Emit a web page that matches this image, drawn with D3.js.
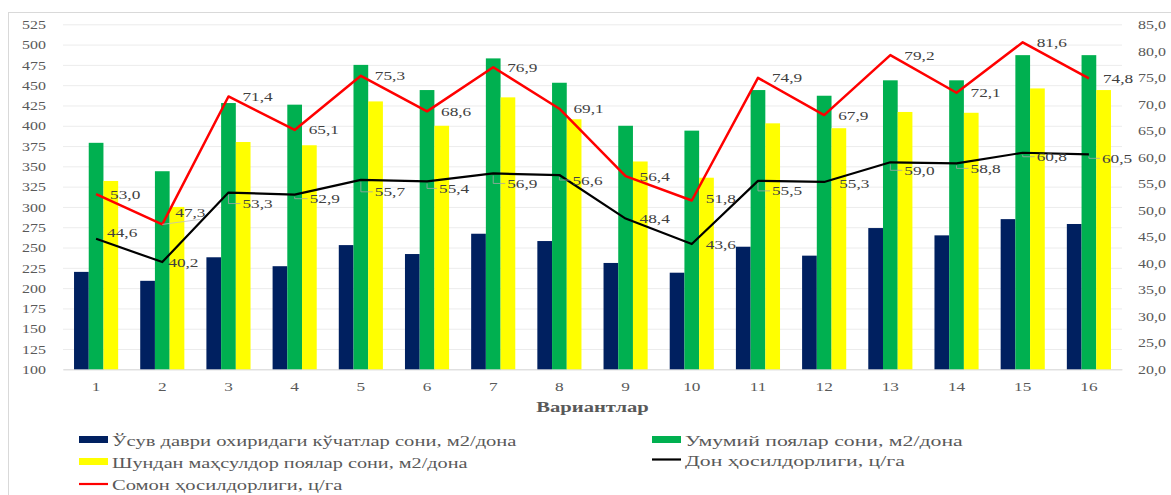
<!DOCTYPE html>
<html>
<head>
<meta charset="utf-8">
<script src="https://cdn.jsdelivr.net/npm/d3@7"></script>
<style>
  html, body { margin: 0; padding: 0; background: #fff; }
  svg { display: block; }
  text { font-family: "Liberation Serif", "Times New Roman", serif; }
</style>
</head>
<body>
<svg id="chart" width="1171" height="495"></svg>
<script>
// Categories (variants) and series
const variants = ["1","2","3","4","5","6","7","8","9","10","11","12","13","14","15","16"];

const seedlings   = [220, 209, 238, 227, 253, 242, 267, 258, 231, 219, 251, 240, 274, 265, 285, 279];
const totalStems  = [379, 344, 428, 426, 475, 444, 483, 453, 400, 394, 444, 437, 456, 456, 487, 487];
const productive  = [332, 300, 380, 376, 430, 400, 435, 408, 356, 336, 403, 397, 417, 416, 446, 444];

const grainYield  = [44.6, 40.2, 53.3, 52.9, 55.7, 55.4, 56.9, 56.6, 48.4, 43.6, 55.5, 55.3, 59.0, 58.8, 60.8, 60.5];
const strawYield  = [53.0, 47.3, 71.4, 65.1, 75.3, 68.6, 76.9, 69.1, 56.4, 51.8, 74.9, 67.9, 79.2, 72.1, 81.6, 74.8];

const leftTicks  = [100,125,150,175,200,225,250,275,300,325,350,375,400,425,450,475,500,525];
const rightTicks = [20,25,30,35,40,45,50,55,60,65,70,75,80,85];

const seriesNames = {
  seedlings:  "Ўсув даври охиридаги кўчатлар сони, м2/дона",
  totalStems: "Умумий поялар сони, м2/дона",
  productive: "Шундан маҳсулдор поялар сони, м2/дона",
  grain:      "Дон ҳосилдорлиги, ц/га",
  straw:      "Сомон ҳосилдорлиги, ц/га"
};
const axisTitle = "Вариантлар";

// label placement nudges [dx, dy] relative to each point
const strawLabelShift = [[14,0],[13,-12],[14,0],[14,0],[14,0],[14,0],[14,0],[14,0],[14,0],[14,-2],[14,0],[14,0],[14,0],[14,0],[14,0],[14,0]];
const grainLabelShift = [[11,-6],[6,0],[14,11],[15,4],[14,12],[12,7],[14,10],[13,5],[14,0],[14,0],[14,10],[15,2],[14,8],[14,5],[14,4],[13,4]];

// ---- layout ----
const SX = 1.33;               // horizontal text stretch
const margin = { left: 63, right: 49, top: 24.3, bottom: 125.7 };
const W = 1171, H = 495;
const plotW = W - margin.left - margin.right;
const plotH = H - margin.top - margin.bottom;

const colors = { seedlings: "#002060", totalStems: "#00b050", productive: "#ffff00", grain: "#000000", straw: "#ff0000" };
const commaFmt = f => v => d3.format(f)(v).replace(".", ",");

const svg = d3.select("#chart");

// outer chart frame
svg.append("rect")
  .attr("x", 8.5).attr("y", 12.5)
  .attr("width", W + 20).attr("height", H + 20)
  .attr("fill", "none").attr("stroke", "#d9d9d9").attr("stroke-width", 1);

const g = svg.append("g").attr("transform", `translate(${margin.left},${margin.top})`);

const x0 = d3.scaleBand().domain(variants).range([0, plotW]).padding(0);
const groupW = x0.bandwidth() * 3 / 4.5;
const x1 = d3.scaleBand().domain(["seedlings","totalStems","productive"]).range([0, groupW]).padding(0);
const yL = d3.scaleLinear().domain([100, 525]).range([plotH, 0]);
const yR = d3.scaleLinear().domain([20, 85]).range([plotH, 0]);

// gridlines
g.append("g")
  .call(d3.axisLeft(yL).tickValues(leftTicks).tickSize(-plotW).tickFormat(""))
  .call(s => s.select(".domain").remove())
  .call(s => s.selectAll("line").attr("stroke", "#ececec").attr("stroke-width", 1));

// left axis labels
g.append("g")
  .call(d3.axisLeft(yL).tickValues(leftTicks).tickSize(0).tickFormat(d3.format("d")))
  .call(s => s.select(".domain").remove())
  .call(s => s.selectAll("text")
    .attr("x", 0).attr("dy", "0.35em")
    .attr("transform", `translate(-17,0) scale(${SX},1)`)
    .attr("fill", "#595959").attr("font-size", 12)
    .style("font-family", "'Liberation Serif', serif"));

// right axis labels
g.append("g")
  .attr("transform", `translate(${plotW},0)`)
  .call(d3.axisRight(yR).tickValues(rightTicks).tickSize(0).tickFormat(commaFmt(".1f")))
  .call(s => s.select(".domain").remove())
  .call(s => s.selectAll("text")
    .attr("x", 0).attr("dy", "0.35em")
    .attr("transform", `translate(16,0) scale(${SX},1)`)
    .attr("fill", "#595959").attr("font-size", 12)
    .style("font-family", "'Liberation Serif', serif"));

// bottom axis
g.append("g")
  .attr("transform", `translate(0,${plotH})`)
  .call(d3.axisBottom(x0).tickSize(0))
  .call(s => s.select(".domain").attr("stroke", "#d9d9d9"))
  .call(s => s.selectAll("text")
    .attr("y", 0).attr("dy", 0)
    .attr("transform", `translate(0,21.5) scale(${SX},1)`)
    .attr("fill", "#595959").attr("font-size", 13)
    .style("font-family", "'Liberation Serif', serif"));

// axis title
g.append("text")
  .attr("transform", `translate(${plotW / 2},${plotH + 43}) scale(${SX},1)`)
  .attr("text-anchor", "middle")
  .attr("font-size", 15.5).attr("font-weight", "bold")
  .attr("fill", "#595959")
  .text(axisTitle);

// bars
const barSeries = [
  { key: "seedlings", values: seedlings },
  { key: "totalStems", values: totalStems },
  { key: "productive", values: productive }
];
const groupOffset = (x0.bandwidth() - groupW) / 2;
barSeries.forEach(s => {
  g.append("g").selectAll("rect")
    .data(s.values)
    .join("rect")
    .attr("x", (d, i) => x0(variants[i]) + groupOffset + x1(s.key))
    .attr("y", d => yL(d))
    .attr("width", x1.bandwidth())
    .attr("height", d => yL(100) - yL(d))
    .attr("fill", colors[s.key]);
});

// lines
const cx = i => x0(variants[i]) + x0.bandwidth() / 2;
const lineGen = d3.line().x((d, i) => cx(i)).y(d => yR(d));

g.append("path").datum(grainYield)
  .attr("d", lineGen).attr("fill", "none")
  .attr("stroke", colors.grain).attr("stroke-width", 2.2).attr("stroke-linejoin", "round");
g.append("path").datum(strawYield)
  .attr("d", lineGen).attr("fill", "none")
  .attr("stroke", colors.straw).attr("stroke-width", 2.5).attr("stroke-linejoin", "round");

// data labels with leader lines where shifted
function drawLabels(values, shifts) {
  const lg = g.append("g");
  values.forEach((v, i) => {
    const px = cx(i), py = yR(v);
    const lx = px + shifts[i][0], ly = py + shifts[i][1];
    if (shifts[i][1] >= 4) {
      lg.append("path")
        .attr("d", `M${px},${py + 2}V${ly}H${lx - 2}`)
        .attr("fill", "none").attr("stroke", "#a6a6a6").attr("stroke-width", 0.8);
    } else if (shifts[i][1] <= -8) {
      lg.append("path")
        .attr("d", `M${px},${py}L${lx + 25},${ly + 7}`)
        .attr("fill", "none").attr("stroke", "#bfbfbf").attr("stroke-width", 0.8);
    }
    lg.append("text")
      .attr("transform", `translate(${lx},${ly}) scale(${SX},1)`)
      .attr("dy", "0.35em")
      .attr("font-size", 13).attr("fill", "#404040")
      .text(commaFmt(".1f")(v));
  });
}
drawLabels(grainYield, grainLabelShift);
drawLabels(strawYield, strawLabelShift);

// legend
const legend = svg.append("g");
const legendItems = [
  { key: "seedlings",  type: "bar",  x: 79,  y: 439.5, sx: 1.37 },
  { key: "totalStems", type: "bar",  x: 652, y: 439.5, sx: 1.45 },
  { key: "productive", type: "bar",  x: 79,  y: 461.5, sx: 1.35 },
  { key: "grain",      type: "line", x: 652, y: 459.5, sx: 1.45 },
  { key: "straw",      type: "line", x: 79,  y: 484,   sx: 1.37 }
];
legendItems.forEach(it => {
  if (it.type === "bar") {
    legend.append("rect").attr("x", it.x).attr("y", it.y - 3.5)
      .attr("width", 29).attr("height", 7).attr("fill", colors[it.key]);
  } else {
    legend.append("line").attr("x1", it.x).attr("x2", it.x + 29)
      .attr("y1", it.y).attr("y2", it.y)
      .attr("stroke", colors[it.key]).attr("stroke-width", 2.2);
  }
  legend.append("text")
    .attr("transform", `translate(${it.x + 33},${it.y + 1}) scale(${it.sx},1)`)
    .attr("dy", "0.35em")
    .attr("font-size", 15).attr("fill", "#595959")
    .text(seriesNames[it.key]);
});
</script>
</body>
</html>
